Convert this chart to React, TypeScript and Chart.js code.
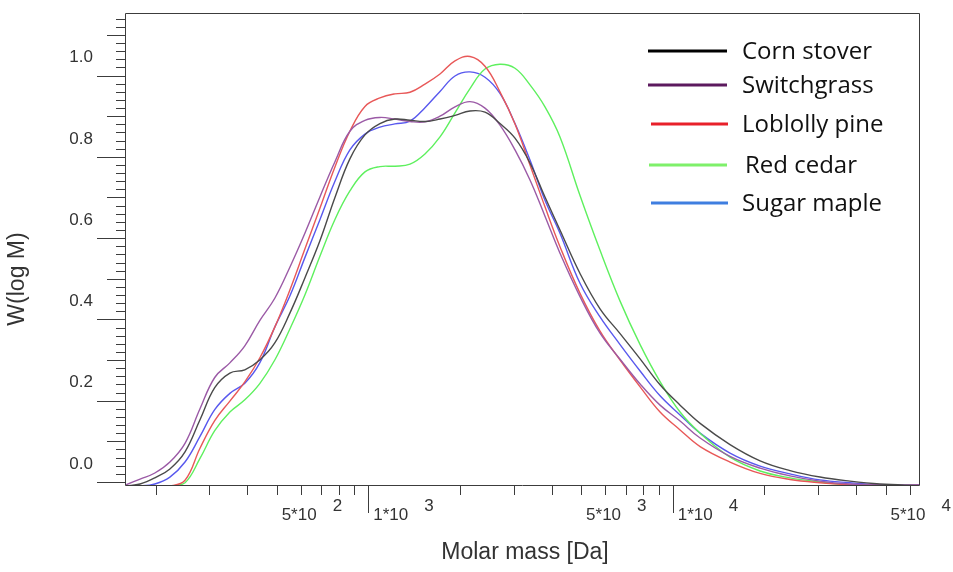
import { useEffect, useRef } from 'react';
import { Chart, registerables } from 'chart.js';

Chart.register(...registerables);

// Molar mass sample points [Da]
const molarMass = [160, 178, 199, 223, 250, 280, 313, 351, 393, 440, 493, 553, 619, 694, 777, 870, 975, 1092, 1223, 1371, 1535, 1720, 1926, 2158, 2417, 2707, 3033, 3397, 3805, 4262, 4959, 5770, 6714, 7813, 9085, 10570, 12300, 15420, 19360, 24270, 30450, 38190, 47920, 64400];

const cornStover = [-0.01, -0.005, 0.010, 0.032, 0.074, 0.153, 0.232, 0.268, 0.276, 0.300, 0.342, 0.416, 0.502, 0.594, 0.700, 0.795, 0.854, 0.882, 0.893, 0.890, 0.887, 0.893, 0.902, 0.913, 0.910, 0.882, 0.846, 0.785, 0.701, 0.620, 0.513, 0.426, 0.365, 0.303, 0.239, 0.189, 0.144, 0.092, 0.052, 0.028, 0.012, 0.002, -0.005, -0.009];
const switchgrass = [-0.007, 0.007, 0.022, 0.049, 0.095, 0.180, 0.257, 0.293, 0.335, 0.397, 0.452, 0.529, 0.612, 0.702, 0.788, 0.863, 0.890, 0.897, 0.893, 0.887, 0.886, 0.900, 0.923, 0.936, 0.920, 0.878, 0.817, 0.743, 0.654, 0.563, 0.456, 0.366, 0.302, 0.241, 0.189, 0.150, 0.108, 0.063, 0.034, 0.015, 0.002, -0.005, -0.007, -0.007];
const loblollyPine = [-0.01, -0.01, -0.01, -0.01, 0.004, 0.083, 0.151, 0.199, 0.246, 0.305, 0.381, 0.473, 0.573, 0.674, 0.775, 0.863, 0.924, 0.945, 0.955, 0.959, 0.979, 1.004, 1.036, 1.047, 1.023, 0.960, 0.881, 0.780, 0.677, 0.579, 0.464, 0.371, 0.300, 0.234, 0.172, 0.128, 0.087, 0.049, 0.021, 0.006, -0.002, -0.007, -0.01, -0.01];
const redCedar = [-0.01, -0.01, -0.01, -0.01, -0.002, 0.058, 0.126, 0.172, 0.202, 0.242, 0.300, 0.377, 0.460, 0.556, 0.646, 0.716, 0.763, 0.776, 0.777, 0.782, 0.807, 0.849, 0.908, 0.968, 1.016, 1.028, 1.018, 0.977, 0.923, 0.849, 0.705, 0.570, 0.445, 0.338, 0.247, 0.172, 0.120, 0.061, 0.027, 0.010, 0.000, -0.007, -0.01, -0.01];
const sugarMaple = [-0.01, -0.01, -0.005, 0.012, 0.049, 0.112, 0.178, 0.218, 0.243, 0.293, 0.381, 0.458, 0.552, 0.646, 0.740, 0.817, 0.856, 0.873, 0.881, 0.888, 0.921, 0.961, 0.999, 1.009, 0.996, 0.956, 0.882, 0.792, 0.693, 0.612, 0.489, 0.406, 0.338, 0.273, 0.212, 0.165, 0.120, 0.071, 0.039, 0.020, 0.005, -0.002, -0.007, -0.009];

const seriesNames = ['Corn stover', 'Switchgrass', 'Loblolly pine', 'Red cedar', 'Sugar maple'];
const seriesValues = [cornStover, switchgrass, loblollyPine, redCedar, sugarMaple];
const lineColors = ['#4a4a4a', '#9b5aa6', '#e85858', '#5ef05e', '#5858ee'];
const legendColors = ['#000000', '#5c1a5e', '#e8202a', '#7ef06a', '#3f7ee0'];

const yTickLabels = ['0.0', '0.2', '0.4', '0.6', '0.8', '1.0'];
const xLabelValues = [500, 1000, 5000, 10000, 50000];
const xLabelMantissa = ['5*10', '1*10', '5*10', '1*10', '5*10'];
const xLabelExponent = ['2', '3', '3', '4', '4'];

const X_MIN = 160;
const X_MAX = 64400;
const Y_MIN = -0.01;
const Y_MAX = 1.154;

const axisPlugin = {
  id: 'gpcAxes',
  afterDraw(chart: any) {
    const ctx = chart.ctx as CanvasRenderingContext2D;
    const { left, right, top, bottom } = chart.chartArea;
    const xs = chart.scales.x;
    const ys = chart.scales.y;
    ctx.save();
    ctx.strokeStyle = '#3c3c3c';
    ctx.lineWidth = 1;
    // frame
    ctx.beginPath();
    ctx.rect(left - 0.5, top + 0.5, right - left + 1, bottom - top - 1);
    ctx.stroke();

    // y ticks
    ctx.beginPath();
    for (let k = 0; k <= 57; k++) {
      const v = k * 0.02;
      const y = Math.round(ys.getPixelForValue(v)) + 0.5;
      const len = k % 10 === 0 ? 29 : k % 5 === 0 ? 19 : 10;
      ctx.moveTo(left - len, y);
      ctx.lineTo(left, y);
    }
    ctx.stroke();

    // x ticks
    ctx.beginPath();
    for (let e = 2; e <= 4; e++) {
      for (let m = 1; m <= 9; m++) {
        const val = m * Math.pow(10, e);
        if (val < X_MIN || val > X_MAX) continue;
        const x = Math.round(xs.getPixelForValue(val)) + 0.5;
        const len = m === 1 ? 27 : 9;
        ctx.moveTo(x, bottom);
        ctx.lineTo(x, bottom + len);
      }
    }
    ctx.stroke();

    // y labels
    ctx.fillStyle = '#333333';
    ctx.font = '17px "Liberation Sans", Arial, sans-serif';
    ctx.textAlign = 'right';
    ctx.textBaseline = 'middle';
    yTickLabels.forEach((lab) => {
      const y = ys.getPixelForValue(parseFloat(lab));
      ctx.fillText(lab, left - 33, y - 18);
    });

    // x labels
    ctx.textAlign = 'left';
    xLabelValues.forEach((val, i) => {
      const x = xs.getPixelForValue(val);
      ctx.fillText(xLabelMantissa[i], x + 5, 515);
      ctx.fillText(xLabelExponent[i], x + 56, 506);
    });

    // axis titles
    ctx.font = '23px "Liberation Sans", Arial, sans-serif';
    ctx.textAlign = 'center';
    ctx.fillText('Molar mass [Da]', 525, 553);
    ctx.save();
    ctx.translate(18, 279);
    ctx.rotate(-Math.PI / 2);
    ctx.fillText('W(log M)', 0, 0);
    ctx.restore();

    // legend
    const legendY = [51, 85, 124, 165, 203];
    const legendX0 = [648, 648, 651, 649, 651];
    const legendX1 = [727, 727, 728, 727, 728];
    const textX = [742, 742, 742, 745, 742];
    ctx.font = '24px "Open Sans", "Noto Sans", sans-serif';
    ctx.textAlign = 'left';
    ctx.textBaseline = 'middle';
    seriesNames.forEach((name, i) => {
      ctx.strokeStyle = legendColors[i];
      ctx.lineWidth = 3;
      ctx.beginPath();
      ctx.moveTo(legendX0[i], legendY[i]);
      ctx.lineTo(legendX1[i], legendY[i]);
      ctx.stroke();
      ctx.fillStyle = '#111111';
      ctx.fillText(name, textX[i], legendY[i] + 1);
    });
    ctx.restore();
  },
};

export default function App() {
  const canvasRef = useRef<HTMLCanvasElement | null>(null);

  useEffect(() => {
    const canvas = canvasRef.current;
    if (!canvas) return;
    const chart = new Chart(canvas, {
      type: 'line',
      data: {
        datasets: seriesNames.map((name, i) => ({
          label: name,
          data: molarMass.map((m, j) => ({ x: m, y: seriesValues[i][j] })),
          borderColor: lineColors[i],
          backgroundColor: lineColors[i],
          borderWidth: 1.4,
          pointRadius: 0,
          fill: false,
          tension: 0.4,
        })),
      },
      options: {
        responsive: false,
        devicePixelRatio: 1,
        animation: false,
        layout: { padding: { left: 126, right: 34, top: 13, bottom: 86 } },
        plugins: {
          legend: { display: false },
          tooltip: { enabled: false },
        },
        scales: {
          x: { type: 'logarithmic', min: X_MIN, max: X_MAX, display: false },
          y: { type: 'linear', min: Y_MIN, max: Y_MAX, display: false },
        },
      },
      plugins: [axisPlugin],
    });
    return () => chart.destroy();
  }, []);

  return (
    <div style={{ position: 'absolute', left: 0, top: 0, width: 953, height: 572, background: '#ffffff' }}>
      <canvas ref={canvasRef} width={953} height={572} style={{ display: 'block' }} />
    </div>
  );
}
